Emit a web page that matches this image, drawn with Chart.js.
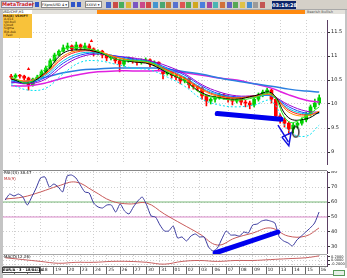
<!DOCTYPE html>
<html>
<head>
<meta charset="utf-8">
<script src="https://cdn.jsdelivr.net/npm/chart.js@4.4.1/dist/chart.umd.min.js"></script>
<style>
  body { margin:0; width:347px; height:278px; overflow:hidden; background:#fff; position:relative; font-family:"DejaVu Sans", sans-serif; }
  .abs { position:absolute; }
  .tiny { font-size:4px; line-height:4px; white-space:nowrap; }
  #toolbar { left:0; top:0; width:347px; height:10px; background:#d4d0c8; border-bottom:1px solid #a8a8a8; box-sizing:border-box; }
  #row2 { left:0; top:10px; width:347px; height:4px; background:#e4e2dc; }
  #mainBox { left:3px; top:14px; width:344px; height:156px; }
  #rsiBox { left:3px; top:171px; width:344px; height:83px; }
  #macdBox { left:3px; top:255px; width:344px; height:19px; }
</style>
</head>
<body>
<div id="toolbar" class="abs"></div>
<div id="row2" class="abs"></div>
<div class="abs" style="left:97px;top:10px;width:208px;height:4px;background:#ff8a10"></div>
<div class="abs tiny" style="left:2px;top:10px;width:30px;height:4px;background:#fff;color:#000;font-size:3.5px">USD/CHF,H1</div>
<div class="abs tiny" style="left:307px;top:10px;color:#555;font-size:3.5px">Bearish Bullish</div>
<div class="abs" style="left:0;top:10px;width:3px;height:268px;background:#c4c4c4"></div>
<div class="abs" style="left:345px;top:10px;width:2px;height:258px;background:#c4c4c4"></div>

<div id="mainBox" class="abs"><canvas id="mainChart"></canvas></div>
<div class="abs" style="left:3px;top:170px;width:324px;height:1px;background:#888"></div>
<div id="rsiBox" class="abs"><canvas id="rsiChart"></canvas></div>
<div class="abs" style="left:3px;top:254px;width:324px;height:1px;background:#aaa"></div>
<div id="macdBox" class="abs"><canvas id="macdChart"></canvas></div>
<div class="abs" style="left:3px;top:266px;width:324px;height:1px;background:#777"></div>
<div class="abs" style="left:3px;top:274px;width:342px;height:1px;background:#999"></div>

<div class="abs tiny" style="left:3px;top:14px;width:29px;height:23px;background:#f8c23a;color:#402000;font-size:3.2px;line-height:3.2px;padding-top:0.5px">
  <div style="font-weight:bold">MA(8) VSHIFT</div><div>&nbsp;A.014</div><div>&nbsp;Vol.bull</div><div>&nbsp;Cloud</div><div>&nbsp;Sigma</div><div>&nbsp;Bid-Ask</div><div>&nbsp;&nbsp;&nbsp;Fast</div>
</div>
<div class="abs tiny" style="left:4px;top:171px;color:#222">RSI(14) 38.47</div>
<div class="abs tiny" style="left:4px;top:177px;color:#c03030">MA(9)</div>
<div class="abs tiny" style="left:4px;top:255px;color:#222">MACD(12,26)</div>
<div class="abs tiny" style="left:2px;top:267px;width:38px;height:6px;background:#fff;border:1px solid #444;box-sizing:border-box;color:#000;font-weight:bold;font-size:3.6px;line-height:4px">EUR/A · 3 · 18/04/14</div>
<div class="abs" style="left:333px;top:270px;width:12px;height:6px;background:#e8f0e8;border:1px solid #5a9a5a;box-sizing:border-box"></div>

<script>
// ---- price bars (candles), one per bar index ----
const firstOpen = 10.58;
const closes = [10.56,10.60,10.58,10.54,10.40,10.52,10.56,10.67,10.75,10.90,
  11.02,11.10,11.17,11.21,11.15,11.23,11.17,11.21,11.15,11.06,
  11.10,11.02,10.96,10.98,10.90,10.83,10.90,10.94,10.90,10.87,
  10.90,10.92,10.83,10.87,10.75,10.63,10.67,10.60,10.56,10.48,
  10.52,10.40,10.37,10.33,10.17,10.06,10.10,10.13,10.19,10.15,
  10.10,10.06,10.10,10.04,10.02,9.98,10.10,10.19,10.25,10.29,
  10.10,9.75,9.67,9.60,9.48,9.56,9.60,9.67,9.79,9.94,
  10.02,10.13];
const highs = [10.62,10.63,10.62,10.60,10.56,10.54,10.60,10.71,10.79,10.94,
  11.06,11.13,11.23,11.27,11.23,11.29,11.25,11.27,11.25,11.17,
  11.13,11.12,11.04,11.02,11.00,10.92,10.94,10.98,10.96,10.92,
  10.94,10.96,10.94,10.90,10.88,10.77,10.71,10.69,10.62,10.58,
  10.56,10.54,10.42,10.38,10.35,10.19,10.13,10.17,10.23,10.21,
  10.17,10.12,10.13,10.12,10.08,10.06,10.13,10.23,10.29,10.33,
  10.31,10.12,9.79,9.71,9.63,9.60,9.63,9.71,9.83,9.98,
  10.10,10.19];
const lows = [10.52,10.54,10.54,10.50,10.29,10.37,10.50,10.54,10.63,10.73,
  10.87,11.00,11.08,11.13,11.10,11.12,11.12,11.13,11.12,11.00,
  11.02,10.96,10.90,10.92,10.85,10.67,10.79,10.87,10.85,10.81,
  10.83,10.87,10.77,10.79,10.69,10.52,10.60,10.54,10.50,10.42,
  10.44,10.33,10.31,10.27,10.10,9.96,10.00,10.04,10.10,10.10,
  10.04,9.98,10.02,9.98,9.94,9.90,9.94,10.06,10.15,10.21,
  10.02,9.67,9.60,9.52,9.37,9.40,9.50,9.56,9.63,9.75,
  9.90,9.98];

// ---- moving averages, sampled at these bar indices ----
const maIdx = [0,4,8,12,16,20,24,28,32,36,40,44,48,52,56,60,64,68,71];
const maLime   = [10.56,10.44,10.75,11.13,11.17,11.10,10.94,10.90,10.87,10.67,10.48,10.21,10.12,10.08,10.13,10.21,9.63,9.75,9.94];
const maBlack  = [10.52,10.44,10.67,11.06,11.13,11.08,10.94,10.88,10.83,10.65,10.48,10.23,10.13,10.10,10.17,10.23,9.71,9.69,9.83];
const maOrange = [10.54,10.48,10.65,11.00,11.12,11.10,10.98,10.90,10.85,10.69,10.52,10.29,10.15,10.12,10.15,10.19,9.83,9.75,9.85];
const maRed    = [10.52,10.48,10.63,10.96,11.10,11.08,10.98,10.90,10.85,10.71,10.54,10.31,10.17,10.13,10.17,10.19,9.87,9.77,9.83];
const maCyan   = [10.50,10.46,10.60,10.90,11.06,11.06,10.98,10.92,10.87,10.73,10.56,10.33,10.19,10.13,10.15,10.17,9.90,9.79,9.81];
const maBlue   = [10.48,10.44,10.56,10.85,11.02,11.06,11.00,10.94,10.88,10.75,10.60,10.37,10.21,10.15,10.15,10.17,9.94,9.81,9.81];
const maViolet = [10.46,10.42,10.52,10.79,10.98,11.04,11.00,10.96,10.90,10.79,10.63,10.40,10.25,10.17,10.17,10.17,9.98,9.85,9.83];
const bandLow  = [10.40,10.29,10.33,10.63,10.87,10.90,10.83,10.75,10.71,10.56,10.37,10.10,9.98,9.94,9.98,10.06,9.44,9.33,9.56];
const slowBlue = [10.44,10.48,10.56,10.65,10.71,10.73,10.75,10.75,10.75,10.73,10.67,10.62,10.54,10.48,10.42,10.37,10.31,10.27,10.25];
const slowPink = [10.38,10.38,10.44,10.54,10.62,10.67,10.69,10.69,10.69,10.69,10.65,10.60,10.54,10.50,10.42,10.33,10.19,10.08,10.04];

// ---- RSI panel ----
const rsi = [61.3,65.3,64.0,65.3,63.3,58.0,63.3,69.3,76.0,76.7,
  70.0,72.0,70.0,66.7,77.3,78.0,76.0,71.3,66.7,66.0,
  59.3,56.7,56.0,58.0,58.0,53.3,58.7,54.0,52.0,56.7,
  60.7,63.3,58.0,50.7,50.0,44.7,40.7,40.7,44.0,36.0,
  36.7,34.0,37.3,38.7,36.7,36.7,30.0,27.3,29.3,35.3,
  40.7,38.0,38.0,37.3,40.0,39.3,44.7,45.3,47.3,48.0,
  47.3,46.0,36.7,34.0,32.7,30.7,34.7,37.3,40.0,42.7,
  46.0,53.3];
const rsiMa = [62.0,63.3,66.7,70.7,73.3,67.3,60.7,58.7,59.3,52.0,45.3,38.7,31.3,36.0,39.3,42.7,37.3,37.3,42.7];
const rsiLevels = [60, 50];

// ---- bottom oscillator ----
const macdLine = [0.15,0.05,-0.05,-0.15,-0.10,-0.10,-0.05,-0.05,-0.10,-0.20,-0.05,0.0,-0.05,0.0,0.0,0.05,0.10,0.15,0.25];

// ---- axes ----
const priceTicks = [11.5, 11, 10.5, 10, 9.5, 9];
const rsiTicks = [80, 70, 60, 50, 40, 30];
const macdTicks = [0.2, 0, -0.2];
const gridIdx = [2, 8, 14, 20, 26, 32, 38, 44, 50, 56, 62, 68];
const timeIdx = [2,5,8,11,14,17,20,23,26,29,32,35,38,41,44,47,50,53,56,59,62,65,68,71];
const timeLabels = ['16','17','18','19','20','23','24','25','26','27','30','31','01','02','03','06','07','08','09','10','13','14','15','16'];

// ---- hand drawn marks (bar index / price units) ----
const trendPriceX = [47.5, 62.2], trendPriceY = [9.80, 9.68];
const arrowX = [61.5, 63.9], arrowY = [9.56, 9.21];
const arrowHeadX = [62.4, 64.5, 64.0, 62.4], arrowHeadY = [9.31, 9.40, 9.13, 9.31];
const circleX = [65.6], circleY = [9.42];
const signalX = [4.0, 18.5], signalY = [10.73, 11.31];
const trendRsiX = [47.5, 61.7], trendRsiY = [26.0, 40.0];

const FONT = 'DejaVu Sans';
const gridCol = '#cfcfcf';
const axisCol = '#5b3f63';

// toolbar decoration
const tb = document.getElementById('toolbar');
const iconColors = ['#2f55c8','#c8352f','#2fa84a','#e0b020','#6a40c0','#c83080','#d03030','#2a8ad0','#30a060','#c07020','#4060d0','#e04040','#40a040','#d0a000','#3070e0','#a03090','#30b0b0','#d06020','#5050c0','#40a040','#e0c030','#3080d0','#909090','#c04040'];
tb.innerHTML =
  '<div class="abs" style="left:1px;top:1px;width:32px;height:7px;background:#eef;border:1px solid #889;box-sizing:border-box;font:bold 5px DejaVu Sans;color:#c22;line-height:5px;text-align:center">MetaTrader</div>' +
  '<div class="abs" style="left:35px;top:2px;width:4px;height:5px;background:#2f55c8"></div>' +
  '<div class="abs tiny" style="left:41px;top:1px;width:28px;height:7px;background:#fff;border:1px solid #888;box-sizing:border-box;font-size:3.5px;line-height:6px;color:#000">FXpro/USD 4 &#9662;</div>' +
  '<div class="abs" style="left:71px;top:2px;width:4px;height:5px;background:#2f55c8"></div>' +
  '<div class="abs" style="left:77px;top:2px;width:4px;height:5px;background:#2f55c8"></div>' +
  '<div class="abs tiny" style="left:85px;top:1px;width:17px;height:7px;background:#fff;border:1px solid #888;box-sizing:border-box;font-size:3.5px;line-height:6px;color:#000">XXXVI &#9662;</div>' +
  '<div class="abs tiny" style="left:272px;top:1px;width:24px;height:8px;background:#0a246a;color:#fff;font:bold 5px DejaVu Sans;line-height:8px;text-align:center">03:19:28</div>';
iconColors.forEach((c, k) => {
  const d = document.createElement('div');
  d.className = 'abs';
  d.style.cssText = `left:${106 + k * 6.7}px;top:2px;width:5px;height:6px;background:${c};opacity:0.85`;
  tb.appendChild(d);
});

// helpers
const setTicks = vals => s => { s.ticks = vals.map(v => ({ value: v })); };
const fixY = w => s => { s.width = w; s.paddingTop = 0; s.paddingBottom = 0; };
const fixX = h => s => { s.height = h; s.paddingLeft = 0; s.paddingRight = 0; };
const pts = (xs, ys) => xs.map((x, k) => ({ x, y: ys[k] }));
const maLine = (ys, color, extra = {}) => ({
  type: 'line', data: pts(maIdx, ys), borderColor: color, borderWidth: 1,
  pointRadius: 0, tension: 0.4, ...extra
});

const xScale = (afterFit, extra = {}) => ({
  type: 'linear', min: -0.5, max: 72.8, offset: false,
  afterBuildTicks: setTicks(gridIdx), afterFit,
  ticks: { display: false },
  grid: { color: gridCol, drawTicks: false, offset: false },
  border: { display: false, dash: [1, 2] },
  ...extra
});
const yScale = (min, max, ticks, extra = {}) => ({
  position: 'right', min, max, beginAtZero: false,
  afterBuildTicks: setTicks(ticks), afterFit: fixY(20),
  ticks: { font: { size: 5, family: FONT }, color: '#222', padding: 1, autoSkip: false, callback: v => String(v) },
  grid: { color: gridCol, tickColor: '#333', tickLength: 3 },
  border: { color: axisCol, dash: [1, 2] },
  ...extra
});
const baseOpts = scales => ({
  responsive: true, maintainAspectRatio: false, animation: false,
  layout: { padding: 0 },
  plugins: { legend: { display: false }, tooltip: { enabled: false } },
  scales
});

// candle tables
const opens = closes.map((c, i) => i === 0 ? firstOpen : closes[i - 1]);
const candleCol = closes.map((c, i) => c >= opens[i] ? '#00d000' : '#ff0000');
const wicks = closes.map((c, i) => ({ x: i, y: [lows[i], highs[i]] }));
const bodies = closes.map((c, i) => ({ x: i, y: [opens[i], c] }));

// oval marker
const oval = document.createElement('canvas');
oval.width = 9; oval.height = 13;
const oc = oval.getContext('2d');
oc.strokeStyle = '#000'; oc.lineWidth = 1.2;
oc.beginPath(); oc.ellipse(4.5, 6.5, 3.2, 5.4, 0, 0, Math.PI * 2); oc.stroke();

new Chart(document.getElementById('mainChart'), {
  type: 'bar',
  data: {
    datasets: [
      { type: 'line', data: pts(trendPriceX, trendPriceY), borderColor: '#0000ee', borderWidth: 5, borderCapStyle: 'round', pointRadius: 0 },
      { type: 'line', data: pts(arrowX, arrowY), borderColor: '#1010e0', borderWidth: 1.5, pointRadius: 0 },
      { type: 'line', data: pts(arrowHeadX, arrowHeadY), borderColor: '#1010e0', borderWidth: 1.5, pointRadius: 0 },
      { type: 'line', data: pts(circleX, circleY), showLine: false, pointStyle: oval, pointRadius: 5 },
      { type: 'line', data: pts(signalX, signalY), showLine: false, pointStyle: 'triangle', pointRadius: 2, backgroundColor: '#ff0000', borderColor: '#ff0000', borderWidth: 0 },
      maLine(maLime, '#22ee22'),
      maLine(maBlack, '#000000'),
      maLine(maOrange, '#ff8c00'),
      maLine(maRed, '#ff2020'),
      maLine(maCyan, '#00c8e0'),
      maLine(maBlue, '#2040ff'),
      maLine(maViolet, '#9a00d0'),
      maLine(bandLow, '#00e0f0', { borderDash: [2, 2] }),
      maLine(slowBlue, '#2a7fe0', { borderWidth: 1.5 }),
      maLine(slowPink, '#e020e0', { borderWidth: 1.5 }),
      { data: bodies, backgroundColor: candleCol, barThickness: 3, grouped: false },
      { data: wicks, backgroundColor: candleCol, barThickness: 1, grouped: false }
    ]
  },
  options: baseOpts({
    x: xScale(fixX(0)),
    y: yScale(8.75, 11.75, priceTicks)
  })
});

new Chart(document.getElementById('rsiChart'), {
  type: 'line',
  data: {
    datasets: [
      { data: pts(trendRsiX, trendRsiY), borderColor: '#0000ee', borderWidth: 5, borderCapStyle: 'round', pointRadius: 0 },
      { data: rsi.map((v, i) => ({ x: i, y: v })), borderColor: '#3a3a9e', borderWidth: 1, pointRadius: 0, tension: 0.2 },
      { data: pts(maIdx, rsiMa), borderColor: '#c85a5a', borderWidth: 1, pointRadius: 0, tension: 0.4 },
      { data: [{ x: -0.5, y: rsiLevels[0] }, { x: 72.8, y: rsiLevels[0] }], borderColor: '#78b878', borderWidth: 1, pointRadius: 0 },
      { data: [{ x: -0.5, y: rsiLevels[1] }, { x: 72.8, y: rsiLevels[1] }], borderColor: '#d888c8', borderWidth: 1, pointRadius: 0 }
    ]
  },
  options: baseOpts({
    x: xScale(fixX(0)),
    y: yScale(25.33, 80.67, rsiTicks)
  })
});

new Chart(document.getElementById('macdChart'), {
  type: 'line',
  data: {
    datasets: [
      { data: pts(maIdx, macdLine), borderColor: '#c86060', borderWidth: 1, pointRadius: 0, tension: 0.4 }
    ]
  },
  options: baseOpts({
    x: {
      type: 'linear', min: -0.5, max: 72.8, offset: false,
      afterBuildTicks: setTicks(timeIdx), afterFit: fixX(8),
      ticks: {
        display: true, autoSkip: false, maxRotation: 0, align: 'start', padding: -7,
        font: { size: 4.5, family: FONT }, color: '#222',
        callback: (v) => ' ' + timeLabels[timeIdx.indexOf(v)]
      },
      grid: { color: gridCol, drawTicks: true, tickLength: 8, tickColor: '#666', offset: false },
      border: { display: false, dash: [1, 2] }
    },
    y: yScale(-0.3, 0.3, macdTicks, {
      ticks: { font: { size: 3.6, family: FONT }, color: '#222', padding: 1, autoSkip: false, callback: v => v.toFixed(4) }
    })
  })
});
</script>
</body>
</html>
